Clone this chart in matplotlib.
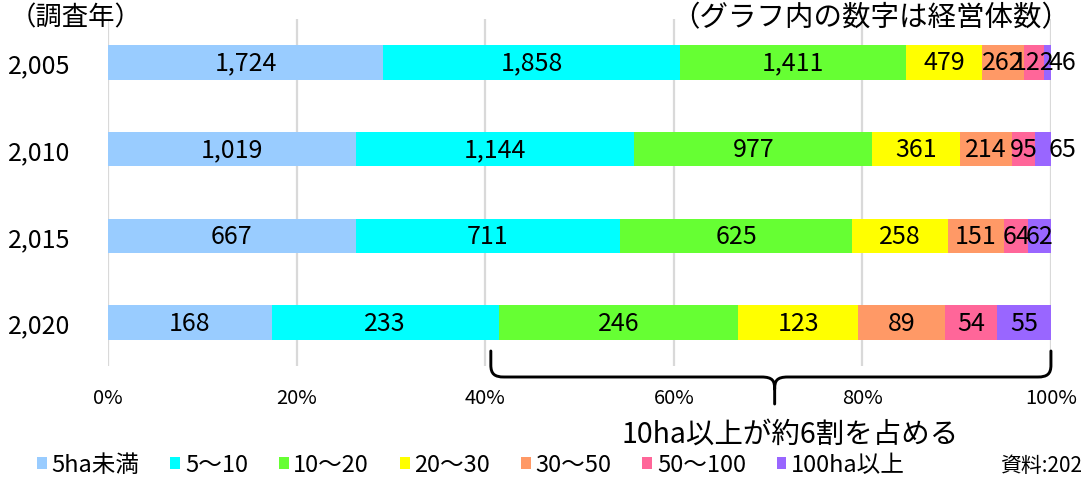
import matplotlib
matplotlib.use('Agg')
import matplotlib.pyplot as plt
import numpy as np
from matplotlib.path import Path
from matplotlib.patches import PathPatch
from matplotlib.transforms import blended_transform_factory

plt.rcParams['font.family'] = ['Noto Sans CJK JP', 'DejaVu Sans']

# data
years = ['2,005', '2,010', '2,015', '2,020']
classes = ['5ha未満', '5〜10', '10〜20', '20〜30', '30〜50', '50〜100', '100ha以上']
counts = np.array([
    [1724, 1858, 1411, 479, 262, 122, 46],
    [1019, 1144, 977, 361, 214, 95, 65],
    [667, 711, 625, 258, 151, 64, 62],
    [168, 233, 246, 123, 89, 54, 55],
])
colors = ['#99CCFF', '#00FFFF', '#66FF33', '#FFFF00', '#FF9966', '#FF6699', '#9966FF']
xticks = [0, 0.2, 0.4, 0.6, 0.8, 1.0]
xtick_labels = ['0%', '20%', '40%', '60%', '80%', '100%']
# labels of the thin last segments that sit right of the bar
outside = {(0, 6), (1, 6)}

fig = plt.figure(figsize=(10.81, 4.81), dpi=100)
ax = fig.add_axes([0.0999, 0.237, 0.8723, 0.7214])

shares = counts / counts.sum(axis=1, keepdims=True)
left = np.zeros(len(years))
ypos = np.arange(len(years))
for j, name in enumerate(classes):
    ax.barh(ypos, shares[:, j], left=left, height=0.4, color=colors[j],
            label=name, zorder=2)
    for i in range(len(years)):
        cx = left[i] + shares[i, j] / 2
        if (i, j) in outside:
            cx = 1.012
        ax.text(cx, ypos[i], f'{counts[i, j]:,}', ha='center', va='center',
                fontsize=18, color='black', zorder=3, clip_on=False)
    left += shares[:, j]

ax.set_xlim(0, 1)
ax.set_ylim(len(years) - 0.5, -0.5)
ax.set_xticks(xticks)
ax.set_xticklabels(xtick_labels, fontsize=14.5)
ax.set_yticks(ypos)
ax.set_yticklabels(years, fontsize=18)
ax.tick_params(axis='both', length=0)
ax.tick_params(axis='x', pad=15)
ax.tick_params(axis='y', pad=27)
ax.xaxis.grid(True, color='#D9D9D9', linewidth=1.6, zorder=0)
ax.set_axisbelow(True)
for sp in ax.spines.values():
    sp.set_visible(False)

# brace under 40%-100%
tr = blended_transform_factory(ax.transData, fig.transFigure)
def fy(py):
    return 1 - py / 481.0
x0, x1, xc = 0.406, 1.0, 0.707
verts = [
    (x0, fy(352)), (x0, fy(366)),
    (x0, fy(375)), (x0 + 0.004, fy(378)), (x0 + 0.014, fy(378)),
    (xc - 0.014, fy(378)),
    (xc - 0.002, fy(378)), (xc, fy(382)), (xc, fy(390)),
    (xc, fy(405)),
    (xc, fy(390)),
    (xc, fy(382)), (xc + 0.002, fy(378)), (xc + 0.014, fy(378)),
    (x1 - 0.014, fy(378)),
    (x1 - 0.004, fy(378)), (x1, fy(375)), (x1, fy(366)),
    (x1, fy(352)),
]
codes = [Path.MOVETO, Path.LINETO,
         Path.CURVE4, Path.CURVE4, Path.CURVE4,
         Path.LINETO,
         Path.CURVE4, Path.CURVE4, Path.CURVE4,
         Path.LINETO,
         Path.MOVETO,
         Path.CURVE4, Path.CURVE4, Path.CURVE4,
         Path.LINETO,
         Path.CURVE4, Path.CURVE4, Path.CURVE4,
         Path.LINETO]
brace = PathPatch(Path(verts, codes), transform=tr, fill=False,
                  edgecolor='black', linewidth=2.1, clip_on=False,
                  capstyle='round', joinstyle='round')
fig.add_artist(brace)

fig.text(790 / 1081, 1 - 435 / 481, '10ha以上が約6割を占める', ha='center',
         va='center', fontsize=20.5)
fig.text(76 / 1081, 1 - 18 / 481, '（調査年）', ha='center', va='center',
         fontsize=19)
fig.text(871 / 1081, 1 - 18 / 481, '（グラフ内の数字は経営体数）', ha='center',
         va='center', fontsize=20.5)
fig.text(1000 / 1081, 1 - 466 / 481, '資料:202', ha='left', va='center',
         fontsize=15)

fig.legend(loc='center left', bbox_to_anchor=(37 / 1081, 1 - 466 / 481),
           ncol=7, frameon=False, fontsize=17, handlelength=0.42,
           handleheight=0.42, handletextpad=0.2, columnspacing=1.3,
           borderpad=0, borderaxespad=0)

fig.savefig('out.png', dpi=100)
plt.close(fig)
